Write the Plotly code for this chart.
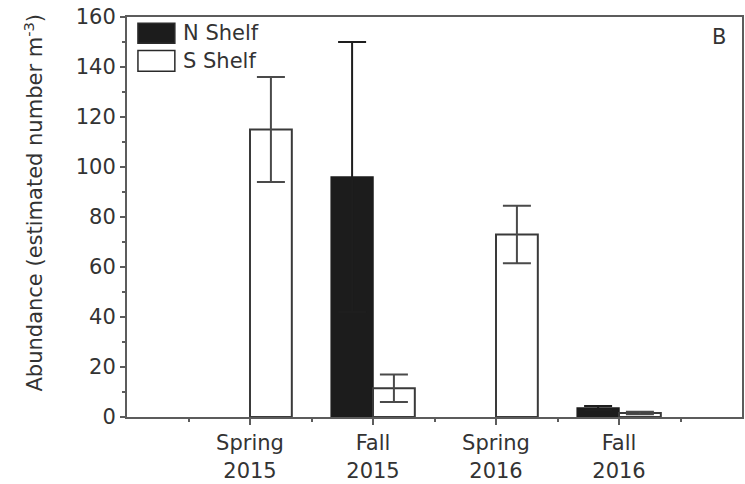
import plotly.graph_objects as go

# Sampling periods and abundance per shelf region (estimated number per m^3)
seasons = ["Spring<br>2015", "Fall<br>2015", "Spring<br>2016", "Fall<br>2016"]
positions = [1, 2, 3, 4]
n_shelf = [None, 96, None, 3.6]
n_shelf_err = [None, 54, None, 0.8]
s_shelf = [115, 11.5, 73, 1.6]
s_shelf_err = [21, 5.5, 11.5, 0.5]

FONT = "DejaVu Sans"
TEXT = "#333333"
AXIS = "#5c5c5c"
BAR_W = 0.34

fig = go.Figure()
fig.add_trace(go.Bar(
    x=positions, y=n_shelf, name="N Shelf",
    width=BAR_W, offset=-BAR_W,
    marker=dict(color="#1c1c1c", line=dict(color="#1c1c1c", width=1.5)),
    error_y=dict(type="data", array=n_shelf_err, visible=True,
                 color="#1e1e1e", thickness=2, width=14),
    showlegend=False,
))
fig.add_trace(go.Bar(
    x=positions, y=s_shelf, name="S Shelf",
    width=BAR_W, offset=0,
    marker=dict(color="white", line=dict(color="#3a3a3a", width=2)),
    error_y=dict(type="data", array=s_shelf_err, visible=True,
                 color="#4a4a4a", thickness=2, width=14),
    showlegend=False,
))

# Hand-drawn legend swatches in the upper-left corner
swatches = [
    ("N Shelf", "#1c1c1c", 0.9845, 0.9345),
    ("S Shelf", "white", 0.916, 0.8645),
]
for label, fill, ytop, ybot in swatches:
    fig.add_shape(type="rect", xref="paper", yref="paper",
                  x0=0.0178, x1=0.0778, y0=ybot, y1=ytop,
                  fillcolor=fill, line=dict(color="#2a2a2a", width=1.5))
    fig.add_annotation(xref="paper", yref="paper", x=0.088, y=(ytop + ybot) / 2,
                       text=label, showarrow=False, xanchor="left", yanchor="middle",
                       font=dict(family=FONT, size=21, color=TEXT))

# Panel letter
fig.add_annotation(xref="paper", yref="paper", x=0.978, y=0.949, text="B",
                   showarrow=False, xanchor="right", yanchor="middle",
                   font=dict(family=FONT, size=21, color=TEXT))

# Y-axis title
fig.add_annotation(xref="paper", yref="paper", x=-0.152, y=0.535,
                   text="Abundance (estimated number m<sup>-3</sup>)",
                   showarrow=False, textangle=-90, xanchor="center", yanchor="middle",
                   font=dict(family=FONT, size=21, color=TEXT))

fig.update_layout(
    width=745, height=484,
    margin=dict(l=127, r=1, t=17, b=67),
    paper_bgcolor="white", plot_bgcolor="white",
    barmode="overlay",
    font=dict(family=FONT, size=21, color=TEXT),
)
fig.update_xaxes(
    range=[0, 5], tickmode="array", tickvals=positions, ticktext=seasons,
    ticks="outside", ticklen=6, tickwidth=1.5, tickcolor=AXIS,
    minor=dict(tickmode="array", tickvals=[0.5, 1.5, 2.5, 3.5, 4.5],
               ticks="outside", ticklen=3, tickcolor=AXIS, tickwidth=1.5),
    showline=True, linecolor=AXIS, linewidth=2, mirror=True,
    showgrid=False, zeroline=False,
    tickfont=dict(family=FONT, size=21, color=TEXT),
)
fig.update_yaxes(
    range=[0, 160], dtick=20, tick0=0,
    ticks="outside", ticklen=5, tickwidth=1.5, tickcolor=AXIS,
    minor=dict(dtick=10, ticks="outside", ticklen=3, tickcolor=AXIS, tickwidth=1.5),
    showline=True, linecolor=AXIS, linewidth=2, mirror=True,
    showgrid=False, zeroline=False,
    tickfont=dict(family=FONT, size=21, color=TEXT),
)

fig.write_html("out.html")
